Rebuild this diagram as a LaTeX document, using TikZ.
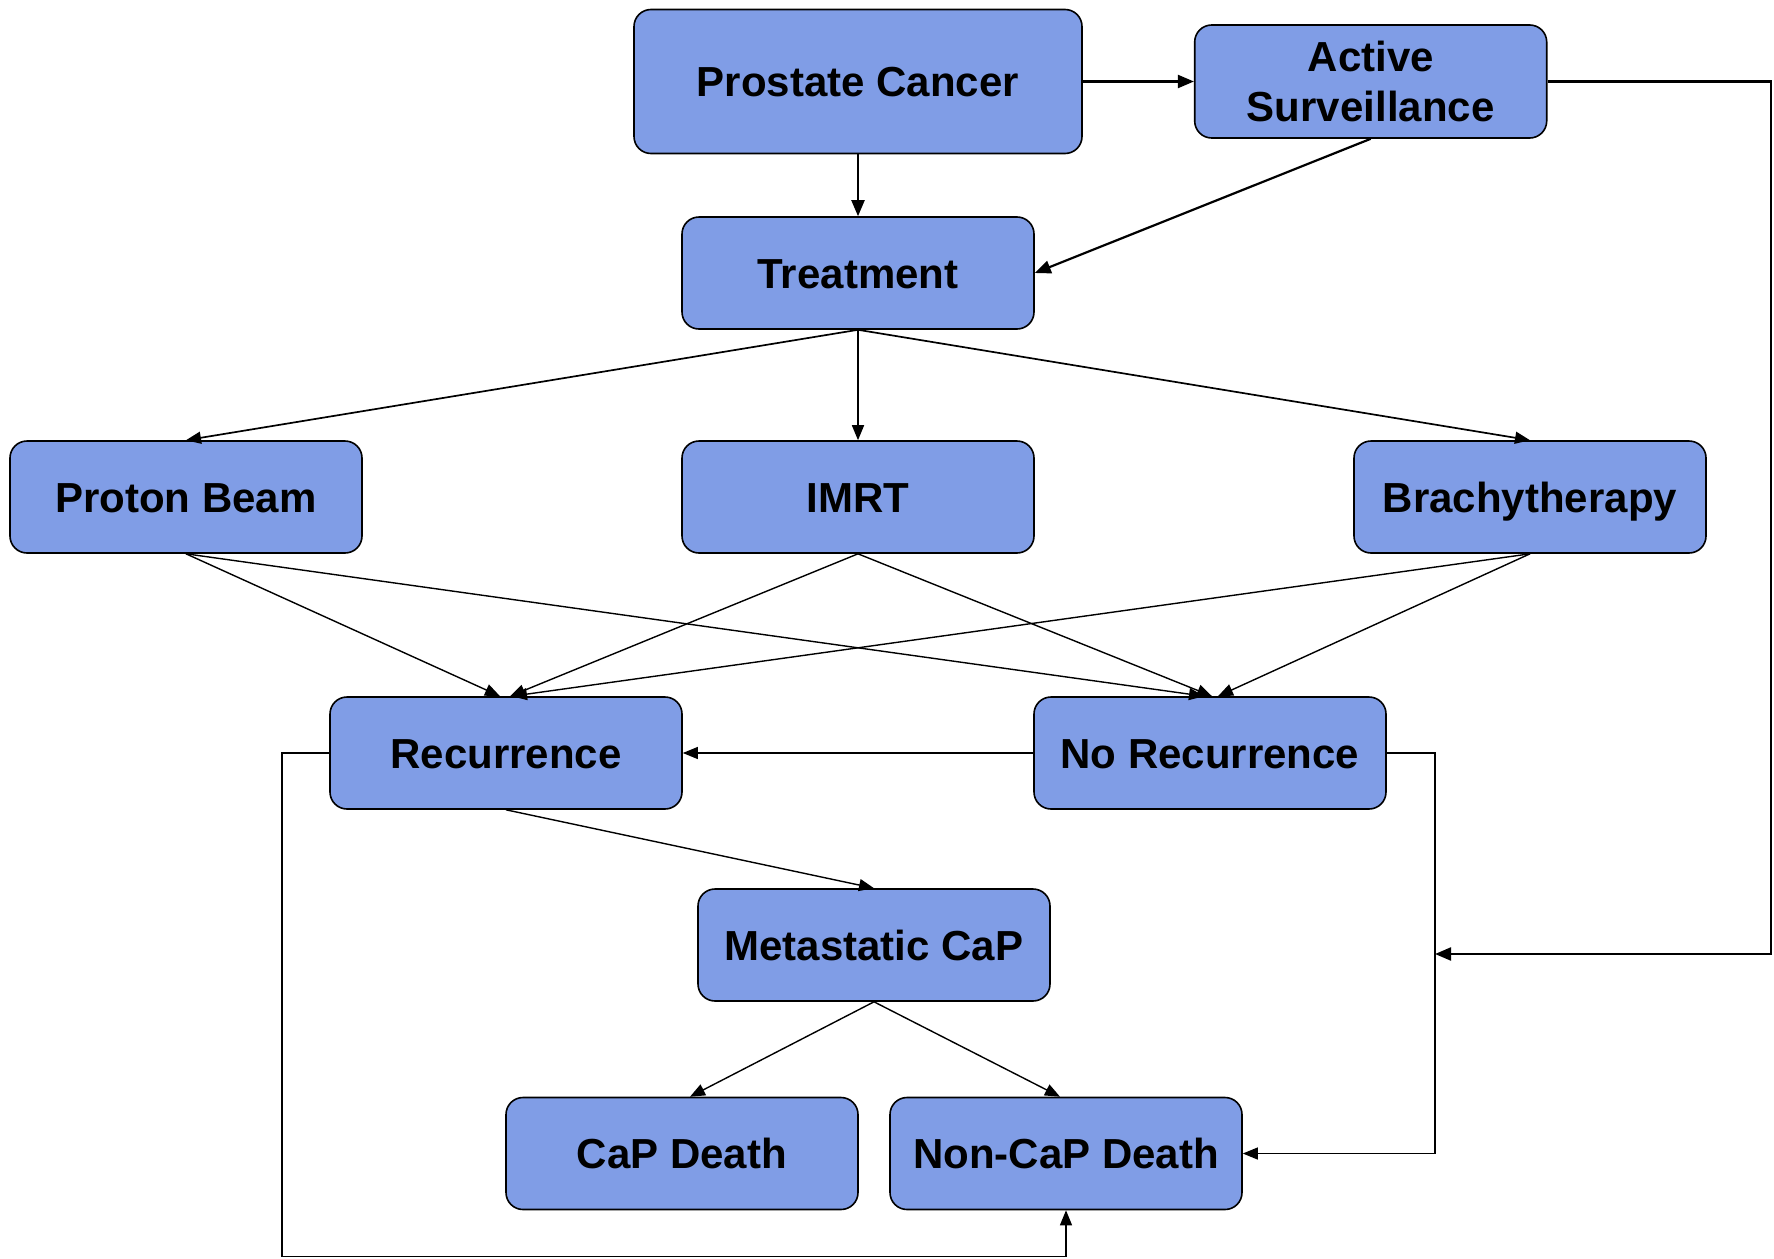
\documentclass[tikz,border=0pt]{standalone}
\usepackage{fontspec}
\setmainfont{Liberation Sans}
\usetikzlibrary{arrows.meta}
\definecolor{boxblue}{RGB}{128,157,230}
\tikzset{
  box/.style={draw=black, line width=1.6pt, fill=boxblue, rounded corners=17pt,
    minimum width=352pt, minimum height=112pt, align=center, inner sep=0pt,
    font=\fontsize{42}{50}\selectfont\bfseries},
  oneline/.style={text height=30pt, text depth=0pt},
  thick arrow/.style={line width=2.2pt, -{Triangle[length=16pt,width=13pt]}},
  mid arrow/.style={line width=1.7pt, -{Triangle[length=15pt,width=12pt]}},
  thin arrow/.style={line width=1.4pt, -{Triangle[length=15pt,width=12pt]}},
  loop arrow/.style={line width=1.2pt, -{Triangle[length=15pt,width=12pt]}},
}
\begin{document}
\begin{tikzpicture}[x=1pt,y=-1pt]
\useasboundingbox (0,0) rectangle (1774,1258);
\node[box, oneline, minimum width=448pt, minimum height=144pt] (pc) at (858,81.5) {Prostate Cancer};
\node[box, minimum height=113pt] (as) at (1370.7,81.5) {Active\\Surveillance};
\node[box, oneline] (tr) at (858,273) {Treatment};
\node[box, oneline] (pb) at (186,497) {Proton Beam};
\node[box, oneline] (im) at (858,497) {IMRT};
\node[box, oneline] (br) at (1530,497) {Brachytherapy};
\node[box, oneline] (re) at (506,753) {Recurrence};
\node[box, oneline] (nr) at (1210,753) {No Recurrence};
\node[box, oneline] (mc) at (874,945) {Metastatic CaP};
\node[box, oneline] (cd) at (682,1153.5) {CaP Death};
\node[box, oneline] (nd) at (1066,1153.5) {Non-CaP Death};
\coordinate (asr) at (1771,81.5);
\coordinate (asd) at (1771,954);
\coordinate (nrj) at (1435,954);
\coordinate (nrr) at (1435,753);
\coordinate (nrd) at (1435,1153.5);
\coordinate (rel) at (282,753);
\coordinate (reb) at (282,1256.5);
\coordinate (ndb) at (1066,1256.5);
% top
\draw[thick arrow] (pc.east) -- (as.west);
\draw[thick arrow] (pc.south) -- (tr.north);
\draw[thick arrow] (as.south) -- (tr.east);
\draw[thick arrow] (as.east) -- (asr) -- (asd) -- (nrj);
% treatment
\draw[mid arrow] (tr.south) -- (pb.north);
\draw[mid arrow] (tr.south) -- (im.north);
\draw[mid arrow] (tr.south) -- (br.north);
% to recurrence / no recurrence
\draw[thin arrow] (pb.south) -- ([xshift=-6pt]re.north);
\draw[thin arrow] (pb.south) -- ([xshift=-6pt]nr.north);
\draw[thin arrow] (im.south) -- ([xshift=4pt]re.north);
\draw[thin arrow] (im.south) -- ([xshift=2pt]nr.north);
\draw[thin arrow] (br.south) -- ([xshift=6pt]re.north);
\draw[thin arrow] (br.south) -- ([xshift=8pt]nr.north);
\draw[loop arrow] (nr.west) -- (re.east);
\draw[loop arrow] (nr.east) -- (nrr) -- (nrd) -- (nd.east);
\draw[thin arrow] (re.south) -- (mc.north);
\draw[thin arrow] (mc.south) -- ([xshift=8pt]cd.north);
\draw[thin arrow] (mc.south) -- ([xshift=-6pt]nd.north);
\draw[loop arrow] (re.west) -- (rel) -- (reb) -- (ndb) -- (nd.south);
\end{tikzpicture}
\end{document}
